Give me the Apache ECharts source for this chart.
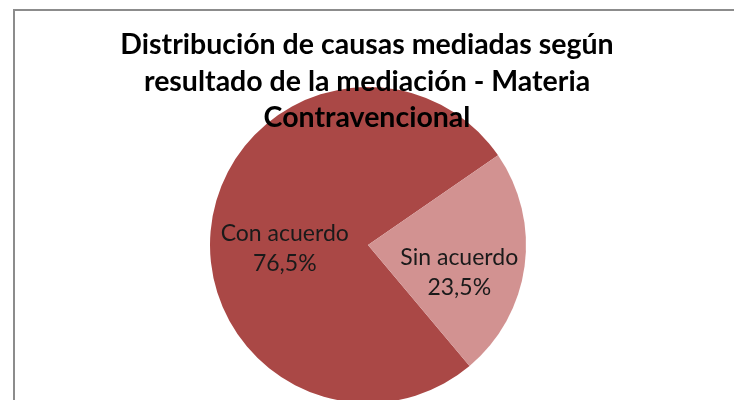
<!DOCTYPE html>
<html>
<head>
<meta charset="utf-8">
<script src="https://cdn.jsdelivr.net/npm/echarts@6/dist/echarts.min.js"></script>
<style>
  html, body { margin: 0; padding: 0; background: #ffffff; }
  #pie1 { width: 734px; height: 400px; }
</style>
</head>
<body>
<div id="pie1"></div>
<script>
// datos
var categorias = ['Con acuerdo', 'Sin acuerdo'];
var porcentajes = [76.5, 23.5];
var colores = ['#aa4846', '#d29291'];
var titulo = 'Distribución de causas mediadas según\nresultado de la mediación - Materia\nContravencional';

var pie1 = echarts.init(document.getElementById('pie1'), null, {
    width: 734,
    height: 400
});

// pequeño ajuste de la etiqueta de cada porcion
var desplazamientos = [[-2, 15], [10, 17]];

var datos = categorias.map(function (nombre, i) {
    return {
        name: nombre,
        value: porcentajes[i],
        itemStyle: { color: colores[i] },
        label: { offset: desplazamientos[i] }
    };
});

var option = {
    backgroundColor: '#ffffff',
    animation: false,
    title: {
        text: titulo,
        left: 'center',
        top: 22,
        textStyle: {
            fontFamily: 'Lato',
            fontWeight: 'bold',
            fontSize: 28.5,
            lineHeight: 36.5,
            color: '#000000'
        }
    },
    graphic: [{
        type: 'rect',
        shape: { x: 14, y: 10, width: 740, height: 420 },
        style: { fill: 'none', stroke: '#8c8c8c', lineWidth: 2 },
        silent: true,
        z: -1
    }],
    series: [{
        type: 'pie',
        center: [368, 245],
        radius: 158,
        startAngle: 310,
        clockwise: true,
        silent: true,
        label: {
            show: true,
            position: 'inside',
            fontFamily: 'Lato',
            fontSize: 23,
            lineHeight: 30,
            color: '#1a1a1a',
            formatter: function (p) {
                return p.name + '\n' + p.value.toFixed(1).replace('.', ',') + '%';
            }
        },
        labelLine: { show: false },
        data: datos
    }]
};
pie1.setOption(option);
</script>
</body>
</html>
